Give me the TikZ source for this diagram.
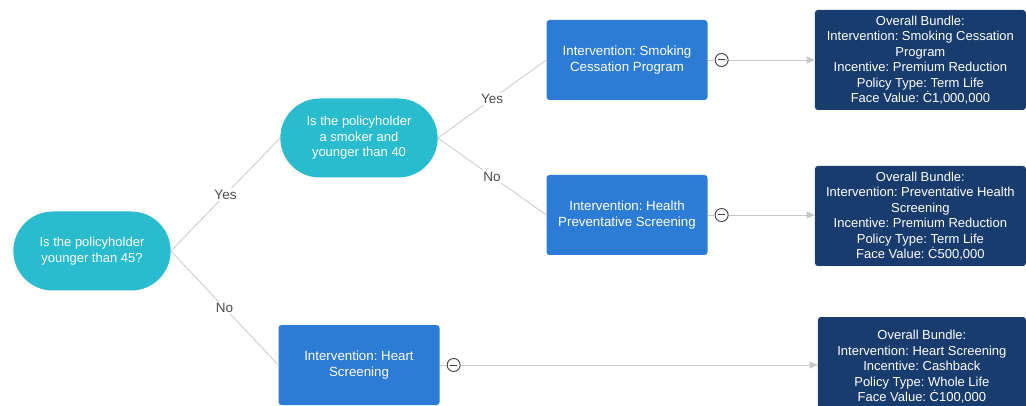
\documentclass[tikz,border=0pt]{standalone}
\usepackage{fontspec}
\setmainfont{Liberation Sans}
\usetikzlibrary{arrows.meta,positioning,shapes.misc}
\definecolor{qcyan}{RGB}{41,187,206}
\definecolor{ivblue}{RGB}{44,124,214}
\definecolor{bdnavy}{RGB}{24,60,110}
\definecolor{lngray}{RGB}{200,200,200}
\frenchspacing

\begin{document}
\begin{tikzpicture}[x=1pt,y=1pt,>={Triangle[length=8pt,width=7pt]},
 q/.style={rounded rectangle,fill=qcyan,text=white,minimum width=164pt,minimum height=79pt,align=center,font=\fontsize{13}{15.5}\selectfont},
 iv/.style={fill=ivblue,rounded corners=3pt,text=white,minimum width=161pt,minimum height=80pt,align=center,font=\fontsize{13.3}{15.5}\selectfont},
 bd/.style={fill=bdnavy,rounded corners=3pt,text=white,minimum width=211pt,minimum height=100pt,align=center,font=\fontsize{13}{15.5}\selectfont},
 mn/.style={circle,draw=black!75,fill=white,line width=0.9pt,minimum size=13pt,inner sep=0pt,
  path picture={\draw[line width=1pt] ([xshift=-3.5pt]path picture bounding box.center) -- ([xshift=3.5pt]path picture bounding box.center);}},
 ln/.style={draw=lngray,line width=0.8pt},
 lb/.style={fill=white,text=black!70,inner sep=1.5pt,font=\fontsize{13.5}{15}\selectfont}]
\useasboundingbox (0,0) rectangle (1026,-406);
% questions
\node[q] (q1) at (92,-251) {Is the policyholder\\younger than 45?};
\node[q] (q2) at (359,-138) {Is the policyholder\\a smoker and\\younger than 40};
% interventions
\node[iv] (iv1) at (627,-60) {Intervention: Smoking\\Cessation Program};
\node[iv] (iv2) at (627,-215) {Intervention: Health\\Preventative Screening};
\node[iv] (iv3) at (359,-365) {Intervention: Heart\\Screening};
\node[mn,right=7pt of iv1] (m1) {};
\node[mn,right=7pt of iv2] (m2) {};
\node[mn,right=7pt of iv3] (m3) {};
% bundles
\node[bd,right=107pt of iv1] (bd1) {Overall Bundle:\\Intervention: Smoking Cessation\\Program\\Incentive: Premium Reduction\\Policy Type: Term Life\\Face Value: Ċ1,000,000};
\node[bd,right=107pt of iv2,yshift=-1pt] (bd2) {Overall Bundle:\\Intervention: Preventative Health\\Screening\\Incentive: Premium Reduction\\Policy Type: Term Life\\Face Value: Ċ500,000};
\node[bd,right=378pt of iv3,yshift=-2pt,minimum width=208pt] (bd3) {Overall Bundle:\\Intervention: Heart Screening\\Incentive: Cashback\\Policy Type: Whole Life\\Face Value: Ċ100,000};
% branches
\draw[ln] (q1.east) -- node[lb] {Yes} (q2.west);
\draw[ln] (q1.east) -- node[lb] {No} (iv3.west);
\draw[ln] (q2.east) -- node[lb] {Yes} (iv1.west);
\draw[ln] (q2.east) -- node[lb] {No} (iv2.west);
\foreach \i in {1,2,3}{
 \draw[ln] (iv\i) -- (m\i);
 \draw[ln,->,lngray] (m\i) -- (m\i -| bd\i.west);
}
\end{tikzpicture}
\end{document}
